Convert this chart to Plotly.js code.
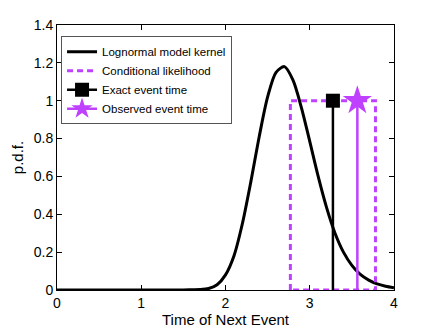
<!DOCTYPE html>
<html>
<head>
<meta charset="utf-8">
<script src="https://cdn.plot.ly/plotly-3.0.1.min.js"></script>
<style>
  html, body { margin: 0; padding: 0; background: #fff; }
  #chart { width: 436px; height: 328px; }
</style>
</head>
<body>
<div id="chart"></div>
<script>
// lognormal kernel
var kernelX = [0, 0.5, 1.0, 1.5, 1.6, 1.7, 1.8, 1.9, 2.0, 2.1, 2.2, 2.3, 2.4, 2.5, 2.6, 2.7,
               2.8, 2.9, 3.0, 3.1, 3.2, 3.3, 3.4, 3.5, 3.6, 3.7, 3.8, 3.9, 4.0];
var kernelY = [0, 0, 0, 0, 0.001, 0.002, 0.008, 0.028, 0.08, 0.18, 0.35, 0.57, 0.81, 1.02, 1.15, 1.18,
               1.11, 0.965, 0.785, 0.6, 0.435, 0.30, 0.20, 0.13, 0.082, 0.052, 0.032, 0.02, 0.012];

// conditional likelihood box
var boxX = [2.77, 2.77, 3.78, 3.78, 2.77];
var boxY = [0, 1, 1, 0, 0];

// event times
var exactX = [3.275, 3.275];
var exactY = [1, 0];
var observedX = [3.565, 3.565];
var observedY = [1, 0];

var purple = 'rgb(191,64,255)';

var data = [
  {x: kernelX, y: kernelY, type: 'scatter', mode: 'lines', name: 'Lognormal model kernel',
   line: {color: 'black', width: 3, shape: 'spline', smoothing: 0.8}},
  {x: boxX, y: boxY, type: 'scatter', mode: 'lines', name: 'Conditional likelihood',
   line: {color: purple, width: 3, dash: '6px,4px'}},
  {x: exactX, y: exactY, type: 'scatter', mode: 'lines+markers', name: 'Exact event time',
   line: {color: 'black', width: 2.5},
   marker: {symbol: ['square', 'line-ns'], size: 14, color: 'black', line: {width: 0}}},
  {x: observedX, y: observedY, type: 'scatter', mode: 'lines+markers', name: 'Observed event time',
   line: {color: purple, width: 2.5},
   marker: {symbol: ['star', 'line-ns'], size: 22, color: purple, line: {width: 0}}}
];

var axisFont = {family: 'Liberation Sans, Arial, sans-serif', size: 14, color: 'black'};

var layout = {
  width: 436,
  height: 328,
  margin: {l: 57, r: 42, t: 25, b: 38},
  paper_bgcolor: 'white',
  plot_bgcolor: 'white',
  font: axisFont,
  showlegend: true,
  legend: {
    x: 0.012, y: 0.958, xanchor: 'left', yanchor: 'top',
    bgcolor: 'white', bordercolor: '#555', borderwidth: 1,
    font: {family: 'Liberation Sans, Arial, sans-serif', size: 11.5, color: 'black'},
    tracegroupgap: 0
  },
  xaxis: {
    range: [0, 4], tickvals: [0, 1, 2, 3, 4], ticktext: ['0', '1', '2', '3', '4'],
    ticks: 'inside', ticklen: 5, tickcolor: 'black', mirror: 'ticks',
    showline: true, linecolor: 'black', linewidth: 1,
    showgrid: false, zeroline: false,
    title: {text: 'Time of Next Event', font: {size: 15}, standoff: 2}
  },
  yaxis: {
    range: [0, 1.4], tickvals: [0, 0.2, 0.4, 0.6, 0.8, 1, 1.2, 1.4],
    ticktext: ['0', '0.2', '0.4', '0.6', '0.8', '1', '1.2', '1.4'],
    ticks: 'inside', ticklen: 5, tickcolor: 'black', mirror: 'ticks',
    showline: true, linecolor: 'black', linewidth: 1,
    showgrid: false, zeroline: false,
    title: {text: 'p.d.f.', font: {size: 15}, standoff: 6}
  }
};

Plotly.newPlot('chart', data, layout, {displayModeBar: false, staticPlot: true});
</script>
</body>
</html>
